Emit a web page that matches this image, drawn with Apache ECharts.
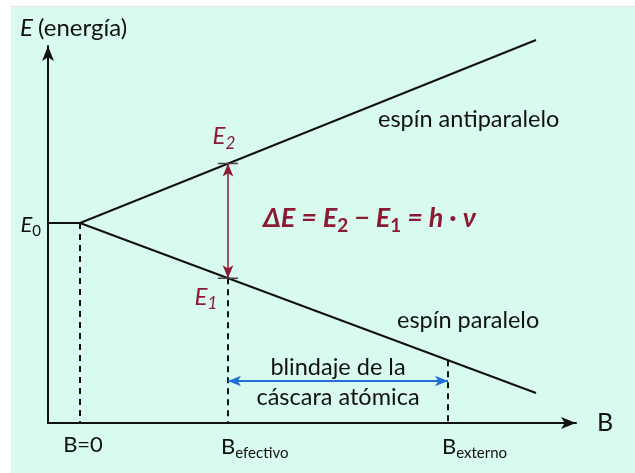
<!DOCTYPE html>
<html>
<head>
<meta charset="utf-8">
<script src="https://cdn.jsdelivr.net/npm/echarts@6/dist/echarts.min.js"></script>
<style>
html, body { margin: 0; padding: 0; background: #fff; }
#fondo { position: absolute; left: 11px; top: 6px; width: 624px; height: 467px; background: #d9fbef; border-top: 1px solid #e2e6e4; }
#main { position: absolute; left: 0; top: 0; width: 635px; height: 473px; }
</style>
</head>
<body>
<div id="fondo"></div>
<div id="main"></div>
<script>
// campo magnetico B (unidades arbitrarias) y energia E
var bMin = -3.2;
var bMax = 49.6;
var eMin = 0;
var eMax = 37.7;

var bCero = 0;
var bEfectivo = 14.8;
var bExterno = 36.8;
var bFin = 45.6;

var e0 = 20;
var eAntiFin = 38.3;  // espin antiparalelo al final de la recta
var eParaFin = 3.0;   // espin paralelo al final de la recta
var e2 = 25.94;       // E2 en B efectivo
var e1 = 14.48;       // E1 en B efectivo
var eParaExt = 6.28;  // espin paralelo en B externo
var eBlindaje = 4.2;  // altura de la flecha azul

var rojo = '#8b1a33';
var azul = '#1f6fd6';
var negro = '#111';
var fuente = 'Lato, "Open Sans", sans-serif';

var antiparalelo = [[bMin, e0], [bCero, e0], [bFin, eAntiFin]];
var paralelo = [[bCero, e0], [bFin, eParaFin]];
var discontinuas = [
  [[bCero, e0], [bCero, eMin]],
  [[bEfectivo, e1], [bEfectivo, eMin]],
  [[bExterno, eParaExt], [bExterno, eMin]]
];
var marcas = [e2, e1];

var myChart = echarts.init(document.getElementById('main'));

var series = [];
series.push({
  type: 'line', data: antiparalelo, symbol: 'none', clip: false, silent: true,
  lineStyle: { color: negro, width: 2 }, z: 3
});
series.push({
  type: 'line', data: paralelo, symbol: 'none', clip: false, silent: true,
  lineStyle: { color: negro, width: 2 }, z: 3
});
for (var i = 0; i < discontinuas.length; i++) {
  series.push({
    type: 'line', data: discontinuas[i], symbol: 'none', silent: true,
    lineStyle: { color: negro, width: 2, type: [6, 5] }
  });
}
// marcas cortas en E2 y E1
for (var i = 0; i < marcas.length; i++) {
  series.push({
    type: 'line', data: [[bEfectivo - 1, marcas[i]], [bEfectivo + 1, marcas[i]]],
    symbol: 'none', silent: true, lineStyle: { color: '#444', width: 1.5 }, z: 4
  });
}
// flecha roja E2 <-> E1
series.push({
  type: 'line', data: [], silent: true,
  markLine: {
    silent: true, symbol: ['arrow', 'arrow'], symbolSize: [8, 13],
    label: { show: false },
    lineStyle: { color: rojo, width: 1.5, type: 'solid' },
    data: [[{ coord: [bEfectivo, e2] }, { coord: [bEfectivo, e1] }]]
  }
});
// flecha azul: blindaje
series.push({
  type: 'line', data: [], silent: true,
  markLine: {
    silent: true, symbol: ['arrow', 'arrow'], symbolSize: [8, 13],
    label: { show: false },
    lineStyle: { color: azul, width: 2, type: 'solid' },
    data: [[{ coord: [bEfectivo, eBlindaje] }, { coord: [bExterno, eBlindaje] }]]
  }
});

var option = {
  animation: false,
  backgroundColor: 'transparent',
  grid: { left: 48, right: 59, top: 46, bottom: 50, containLabel: false },
  xAxis: {
    type: 'value', min: bMin, max: bMax,
    axisLine: { onZero: false, symbol: ['none', 'arrow'], symbolSize: [9, 15], lineStyle: { color: negro, width: 2 } },
    axisTick: { show: false }, axisLabel: { show: false }, splitLine: { show: false }
  },
  yAxis: {
    type: 'value', min: eMin, max: eMax,
    axisLine: { onZero: false, symbol: ['none', 'arrow'], symbolSize: [9, 15], lineStyle: { color: negro, width: 2 } },
    axisTick: { show: false }, axisLabel: { show: false }, splitLine: { show: false }
  },
  series: series
};
myChart.setOption(option);

function px(b, e) {
  return myChart.convertToPixel({ gridIndex: 0 }, [b, e]);
}

function texto(x, y, rich, partes, align, color) {
  return {
    type: 'text', x: x, y: y, silent: true, z: 10,
    style: {
      text: partes, rich: rich, fill: color || negro,
      align: align || 'left', verticalAlign: 'middle', font: '20px ' + fuente
    }
  };
}

var richB = {
  b: { fontSize: 22, fontFamily: fuente, fill: negro },
  s: { fontSize: 15, fontFamily: fuente, fill: negro, padding: [12, 0, 0, 0] }
};
var richE = {
  e: { fontSize: 24, fontFamily: fuente, fontStyle: 'italic', fill: rojo },
  s: { fontSize: 17, fontFamily: fuente, fontStyle: 'italic', fill: rojo, padding: [13, 0, 0, 0] }
};
var richE0 = {
  e: { fontSize: 22, fontFamily: fuente, fontStyle: 'italic', fill: negro },
  s: { fontSize: 15, fontFamily: fuente, fill: negro, padding: [12, 0, 0, 0] }
};
var richF = {
  t: { fontSize: 27, fontFamily: fuente, fontStyle: 'italic', fontWeight: 'bold', fill: rojo },
  s: { fontSize: 19, fontFamily: fuente, fontWeight: 'bold', fill: rojo, padding: [15, 0, 0, 0] }
};
var richT = {
  n: { fontSize: 23.5, fontFamily: fuente, fill: negro },
  i: { fontSize: 24, fontFamily: fuente, fontStyle: 'italic', fill: negro },
  p: { fontSize: 24, fontFamily: fuente, fill: negro }
};

var pE0 = px(bMin, e0);
var pE2 = px(bEfectivo, e2);
var pE1 = px(bEfectivo, e1);
var pB0 = px(bCero, eMin);
var pBef = px(bEfectivo, eMin);
var pBex = px(bExterno, eMin);
var pFin = px(bMax, eMin);
var pAzul = px((bEfectivo + bExterno) / 2, eBlindaje);

myChart.setOption({
  graphic: [
    texto(20, 28, richT, '{i|E} {p|(energía)}'),
    texto(pE0[0] - 7, pE0[1] + 2, richE0, '{e|E}{s|0}', 'right'),
    texto(pE2[0] - 4, pE2[1] - 27, richE, '{e|E}{s|2}', 'center'),
    texto(pE1[0] - 22, pE1[1] + 19, richE, '{e|E}{s|1}', 'center'),
    texto(263, 218, richF, '{t|ΔE = E}{s|2}{t| − E}{s|1}{t| = h · ν}'),
    texto(378, 119, richT, '{n|espín antiparalelo}'),
    texto(397, 320, richT, '{n|espín paralelo}'),
    texto(pAzul[0], pAzul[1] - 14, richT, '{n|blindaje de la}', 'center'),
    texto(pAzul[0], pAzul[1] + 16, richT, '{n|cáscara atómica}', 'center'),
    texto(pB0[0] + 3, pB0[1] + 22, richB, '{b|B=0}', 'center'),
    texto(pBef[0] - 7, pBef[1] + 24, richB, '{b|B}{s|efectivo}'),
    texto(pBex[0] - 6, pBex[1] + 24, richB, '{b|B}{s|externo}'),
    texto(pFin[0] + 21, pFin[1], { b: { fontSize: 25, fontFamily: fuente, fill: negro } }, '{b|B}')
  ]
});
</script>
</body>
</html>
